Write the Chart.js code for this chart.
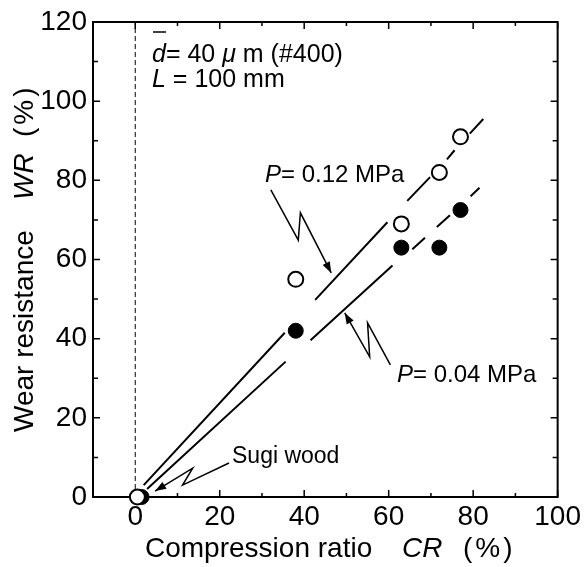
<!DOCTYPE html>
<html>
<head>
<meta charset="utf-8">
<script src="https://cdn.jsdelivr.net/npm/chart.js@4.4.0/dist/chart.umd.min.js"></script>
<style>
  html, body { margin: 0; padding: 0; background: #fff; }
</style>
</head>
<body>
<canvas id="wearChart" width="587" height="567"></canvas>
<script>
// compression ratio CR (%) vs wear resistance WR (%)
const crHigh = [0.5, 38, 63, 72, 77];   // P = 0.12 MPa (open circles)
const wrHigh = [0, 55, 69, 82, 91];
const crLow = [1.5, 38, 63, 72, 77];    // P = 0.04 MPa (filled circles)
const wrLow = [0, 42, 63, 63, 72.5];

// broken fit lines as drawn, null = gap
const fitHighX = [2, 35.4, 39, 42.6, 59.7, 62, 64.4, 69.8, 72, 73.8, 75.6, 77, 79.2, 82.4];
const fitHighY = [3, 41.5, null, 49.8, 69.4, null, 74.8, 80.8, null, 85.3, 87.6, null, 91.8, 95.5];
const fitLowX = [2.8, 35.6, 38.5, 41.5, 60.9, 63, 65.6, 68.6, 70, 71.4, 74.5, 77, 79.4, 81.5];
const fitLowY = [2, 34.2, null, 39.6, 58.5, null, 62.6, 65.5, null, 68.2, 71.2, null, 76, 78.1];

const xTicks = [0, 20, 40, 60, 80, 100];
const yTicks = [0, 20, 40, 60, 80, 100, 120];

const FONT = '"Liberation Sans", Arial, Helvetica, sans-serif';

const toPts = (xs, ys) => xs.map((x, i) => ({ x: x, y: ys[i] }));

// annotation leader lines, in data units (last point = arrow tip)
const leaders = [
  [[32.1, 77.6], [38.6, 64.9], [39.1, 71.8], [46.4, 56.6]],
  [[60.4, 33.4], [55.0, 44.0], [55.5, 35.4], [49.6, 46.5]],
  [[22.2, 8.6], [11.2, 3.0], [13.6, 7.3], [4.7, 1.5]]
];

function drawRuns(ctx, x, y, runs, size) {
  runs.forEach(r => {
    ctx.font = (r.i ? 'italic ' : '') + size + 'px ' + FONT;
    ctx.fillText(r.t, x, y);
    x += ctx.measureText(r.t).width + (r.gap || 0);
  });
}

function arrowHead(ctx, p0, p1) {
  const ang = Math.atan2(p1[1] - p0[1], p1[0] - p0[0]);
  const len = 11, hw = 4;
  ctx.beginPath();
  ctx.moveTo(p1[0], p1[1]);
  ctx.lineTo(p1[0] - len * Math.cos(ang) + hw * Math.sin(ang), p1[1] - len * Math.sin(ang) - hw * Math.cos(ang));
  ctx.lineTo(p1[0] - len * Math.cos(ang) - hw * Math.sin(ang), p1[1] - len * Math.sin(ang) + hw * Math.cos(ang));
  ctx.closePath();
  ctx.fill();
}

// "(%)" is set a bit looser in the original
const pct = [{ t: '(', gap: 3 }, { t: '%', gap: 3 }, { t: ')' }];

const framePlugin = {
  id: 'frame',
  beforeDatasetsDraw(chart) {
    const { ctx, chartArea: a, scales: { x, y } } = chart;
    ctx.save();
    ctx.strokeStyle = '#000';
    ctx.lineWidth = 2;
    ctx.strokeRect(a.left, a.top, a.right - a.left, a.bottom - a.top);
    ctx.lineWidth = 1.5;
    ctx.beginPath();
    x.ticks.forEach(t => {
      const px = x.getPixelForValue(t.value);
      const l = xTicks.includes(t.value) ? 7 : 4;
      ctx.moveTo(px, a.bottom); ctx.lineTo(px, a.bottom - l);
      ctx.moveTo(px, a.top); ctx.lineTo(px, a.top + l);
    });
    y.ticks.forEach(t => {
      const py = y.getPixelForValue(t.value);
      const l = yTicks.includes(t.value) ? 7 : 5;
      ctx.moveTo(a.left, py); ctx.lineTo(a.left + l, py);
      ctx.moveTo(a.right, py); ctx.lineTo(a.right - l, py);
    });
    ctx.stroke();
    ctx.restore();
  },
  afterDraw(chart) {
    const { ctx, scales: { x, y } } = chart;
    ctx.save();
    ctx.fillStyle = '#000';
    ctx.strokeStyle = '#000';
    ctx.textBaseline = 'alphabetic';

    // axis titles
    drawRuns(ctx, 145, 557, [{ t: 'Compression ratio' }], 28);
    drawRuns(ctx, 402, 557, [{ t: 'CR', i: true }], 28);
    drawRuns(ctx, 463, 557, pct, 28);
    ctx.save();
    ctx.translate(33, 432);
    ctx.rotate(-Math.PI / 2);
    drawRuns(ctx, 0, 0, [{ t: 'Wear resistance' }], 28);
    drawRuns(ctx, 232, 0, [{ t: 'WR', i: true }], 28);
    drawRuns(ctx, 295, 0, pct, 28);
    ctx.restore();

    // conditions
    drawRuns(ctx, 152, 62, [{ t: 'd', i: true }, { t: '= 40 ' }, { t: '\u03bc', i: true }, { t: ' m (#400)' }], 25);
    ctx.lineWidth = 1.5;
    ctx.beginPath();
    ctx.moveTo(153, 32); ctx.lineTo(166, 32);
    ctx.stroke();
    drawRuns(ctx, 152, 87, [{ t: 'L', i: true }, { t: ' = 100 mm' }], 25);

    drawRuns(ctx, 265, 182, [{ t: 'P', i: true }, { t: '= 0.12 MPa' }], 24);
    drawRuns(ctx, 397, 382, [{ t: 'P', i: true }, { t: '= 0.04 MPa' }], 24);
    drawRuns(ctx, 232, 463, [{ t: 'Sugi wood' }], 23);

    // zigzag leaders
    ctx.lineWidth = 1.5;
    leaders.forEach(path => {
      const pts = path.map(p => [x.getPixelForValue(p[0]), y.getPixelForValue(p[1])]);
      ctx.beginPath();
      pts.forEach((p, i) => i ? ctx.lineTo(p[0], p[1]) : ctx.moveTo(p[0], p[1]));
      ctx.stroke();
      arrowHead(ctx, pts[pts.length - 2], pts[pts.length - 1]);
    });
    ctx.restore();
  }
};

new Chart(document.getElementById('wearChart'), {
  type: 'scatter',
  data: {
    datasets: [
      {
        label: 'P = 0.12 MPa',
        data: toPts(crHigh, wrHigh),
        pointStyle: 'circle',
        pointRadius: 7.5,
        pointBorderWidth: 2,
        pointBackgroundColor: '#fff',
        pointBorderColor: '#000',
        clip: false
      },
      {
        label: 'P = 0.04 MPa',
        data: toPts(crLow, wrLow),
        pointRadius: 7.5,
        pointBorderWidth: 1,
        pointBackgroundColor: '#000',
        pointBorderColor: '#000',
        clip: false
      },
      {
        label: 'fit 0.12',
        data: toPts(fitHighX, fitHighY),
        showLine: true,
        spanGaps: false,
        borderColor: '#000',
        borderWidth: 2,
        pointRadius: 0
      },
      {
        label: 'fit 0.04',
        data: toPts(fitLowX, fitLowY),
        showLine: true,
        spanGaps: false,
        borderColor: '#000',
        borderWidth: 2,
        pointRadius: 0
      },
      {
        label: 'CR = 0',
        data: [{ x: 0, y: 0 }, { x: 0, y: 120 }],
        showLine: true,
        borderColor: '#000',
        borderWidth: 1,
        borderDash: [5, 3],
        pointRadius: 0
      }
    ]
  },
  options: {
    responsive: false,
    animation: false,
    layout: { padding: { top: 22, right: 25, left: 0, bottom: 0 } },
    plugins: {
      legend: { display: false },
      tooltip: { enabled: false }
    },
    scales: {
      x: {
        type: 'linear',
        min: -10,
        max: 100,
        grid: { display: false, drawTicks: false },
        border: { display: false },
        afterFit: s => { s.height = 70; },
        ticks: {
          stepSize: 10,
          autoSkip: false,
          maxRotation: 0,
          padding: 6,
          color: '#000',
          font: { family: FONT, size: 28, lineHeight: 1 },
          callback: v => xTicks.includes(v) ? String(v) : ''
        }
      },
      y: {
        type: 'linear',
        min: 0,
        max: 120,
        grid: { display: false, drawTicks: false },
        border: { display: false },
        afterFit: s => { s.width = 93; },
        ticks: {
          stepSize: 10,
          autoSkip: false,
          padding: 6,
          color: '#000',
          font: { family: FONT, size: 28, lineHeight: 1 },
          callback: v => yTicks.includes(v) ? String(v) : ''
        }
      }
    }
  },
  plugins: [framePlugin]
});
</script>
</body>
</html>
